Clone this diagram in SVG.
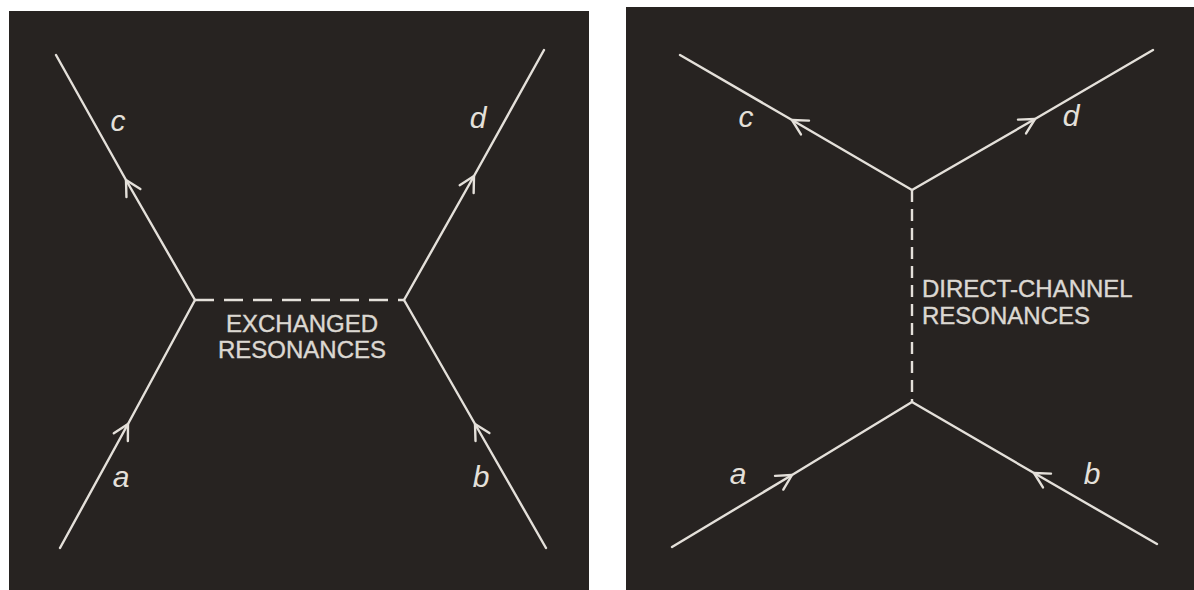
<svg xmlns="http://www.w3.org/2000/svg" width="1194" height="590" viewBox="0 0 1194 590">
  <defs>
    <style>
      .panel { fill: #272321; }
      .ln { stroke: #e4e0da; stroke-width: 2.4; fill: none; stroke-linecap: round; }
      .arr { marker-mid: url(#chev); }
      .dash-h { stroke: #e4e0da; stroke-width: 2.6; fill: none; stroke-dasharray: 19 10; }
      .dash-v { stroke: #e4e0da; stroke-width: 2.4; fill: none; stroke-dasharray: 12 7; }
      .lbl { font-family: "Liberation Sans", Arial, sans-serif; font-style: italic; font-size: 30px; fill: #e4e0da; text-anchor: middle; }
      .cap { font-family: "Liberation Sans", Arial, sans-serif; font-size: 24px; fill: #dcd8d2; stroke: #dcd8d2; stroke-width: 0.4; }
    </style>
    <marker id="chev" markerUnits="userSpaceOnUse" markerWidth="40" markerHeight="40" refX="0" refY="0" viewBox="-20 -20 40 40" orient="auto" overflow="visible">
      <path d="M -15 -8 L 0 0 L -15 8" fill="none" stroke="#e4e0da" stroke-width="2.4" stroke-linecap="round" stroke-linejoin="round"/>
    </marker>
  </defs>
  <rect width="1194" height="590" fill="#ffffff"/>

  <g id="panel-exchanged">
    <rect class="panel" x="9" y="11" width="580" height="579"/>
  </g>
  <g id="panel-direct">
    <rect class="panel" x="626" y="7" width="568" height="583"/>
  </g>

  <g id="connectors">
    <!-- left panel -->
    <path class="ln arr" d="M 195 300 L 126 180 L 56 55"/>
    <path class="ln arr" d="M 404 300 L 474 176 L 544 50"/>
    <path class="ln arr" d="M 60 548 L 128 424 L 195 300"/>
    <path class="ln arr" d="M 546 548 L 475 424 L 404 300"/>
    <path class="dash-h" d="M 195 300 L 404 300"/>
    <!-- right panel -->
    <path class="ln arr" d="M 912 190 L 792 120 L 680 55"/>
    <path class="ln arr" d="M 912 190 L 1035 119 L 1153 50"/>
    <path class="ln arr" d="M 672 547 L 792 475 L 912 402"/>
    <path class="ln arr" d="M 1157 544 L 1034 473 L 912 402"/>
    <path class="dash-v" d="M 912 190 L 912 402"/>
  </g>

  <g id="labels-left">
    <text class="lbl" x="118" y="131">c</text>
    <text class="lbl" x="478" y="128">d</text>
    <text class="lbl" x="121" y="487">a</text>
    <text class="lbl" x="481" y="487">b</text>
    <text class="cap" x="302" y="332" text-anchor="middle">EXCHANGED</text>
    <text class="cap" x="302" y="358" text-anchor="middle">RESONANCES</text>
  </g>

  <g id="labels-right">
    <text class="lbl" x="746" y="127">c</text>
    <text class="lbl" x="1071" y="126">d</text>
    <text class="lbl" x="738" y="484">a</text>
    <text class="lbl" x="1092" y="484">b</text>
    <text class="cap" x="922" y="297">DIRECT-CHANNEL</text>
    <text class="cap" x="922" y="324">RESONANCES</text>
  </g>
</svg>
